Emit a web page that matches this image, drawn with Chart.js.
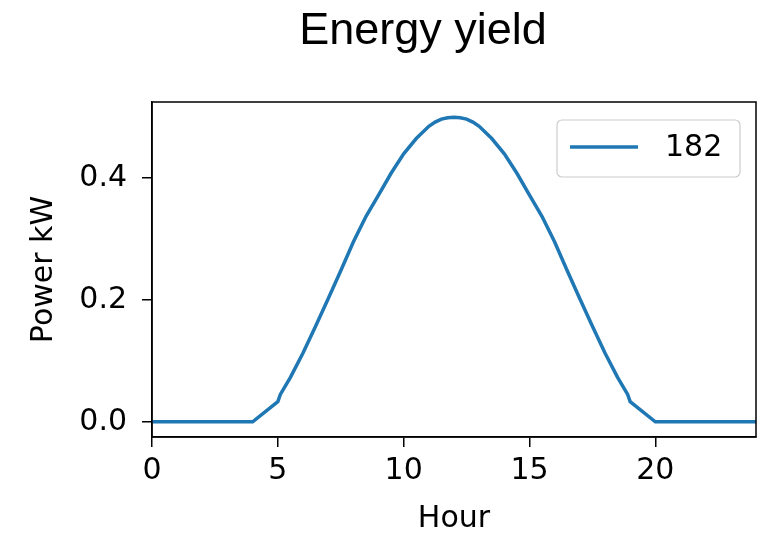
<html>
  <head>
    <title>Energy yield</title>
    <script src="https://cdn.jsdelivr.net/npm/chart.js"></script>
    <style>
      body { margin: 0; background: #fff; }
    </style>
  </head>
  <body>
    <canvas id="yieldChart" width="774" height="537"></canvas>

    <script>
      // values
      const hours = [0, 1, 2, 3, 4, 5, 5.1, 5.5, 6, 6.5, 7, 7.5, 8, 8.5, 9, 9.5, 10, 10.5, 11, 11.25, 11.5, 11.75, 12,
                     12.25, 12.5, 12.75, 13, 13.5, 14, 14.5, 15, 15.5, 16, 16.5, 17, 17.5, 18, 18.5, 18.9, 19, 20, 21, 22, 23, 24];
      const power = [0, 0, 0, 0, 0, 0.033, 0.045, 0.073, 0.113, 0.157, 0.202, 0.248, 0.295, 0.337, 0.372, 0.408, 0.440, 0.465, 0.485, 0.492, 0.497, 0.499, 0.500,
                     0.499, 0.497, 0.492, 0.485, 0.465, 0.440, 0.408, 0.372, 0.337, 0.295, 0.248, 0.202, 0.157, 0.113, 0.073, 0.045, 0.033, 0, 0, 0, 0, 0];
      const seriesLabel = '182';
      const xTicks = [0, 5, 10, 15, 20];
      const yTicks = [0.0, 0.2, 0.4];

      const blue = '#1f77b4';
      const tickFont = { family: 'DejaVu Sans', size: 30 };

      // box round the plot + legend box in the top right corner
      const framePlugin = {
        id: 'frame',
        afterLayout(chart) {
          // matplotlib centres the title over a slightly shifted area
          if (chart.titleBlock) {
            chart.titleBlock.left = 90;
            chart.titleBlock.right = 756;
          }
        },
        afterDatasetsDraw(chart) {
          const { ctx, chartArea: a } = chart;
          ctx.save();
          ctx.strokeStyle = '#000';
          ctx.lineWidth = 1.5;
          ctx.strokeRect(a.left, a.top, a.right - a.left, a.bottom - a.top);

          // legend
          const ds = chart.data.datasets[0];
          const bx = 557, by = 120, bw = 183, bh = 57;
          ctx.fillStyle = 'rgba(255,255,255,0.8)';
          ctx.strokeStyle = '#cccccc';
          ctx.lineWidth = 1.2;
          ctx.beginPath();
          ctx.roundRect(bx, by, bw, bh, 5);
          ctx.fill();
          ctx.stroke();
          ctx.strokeStyle = ds.borderColor;
          ctx.lineWidth = 3.5;
          ctx.beginPath();
          ctx.moveTo(bx + 13, by + 27);
          ctx.lineTo(bx + 81, by + 27);
          ctx.stroke();
          ctx.fillStyle = '#000';
          ctx.font = '30px "DejaVu Sans"';
          ctx.textBaseline = 'middle';
          ctx.textAlign = 'left';
          ctx.fillText(ds.label, bx + 108, by + 28);
          ctx.restore();
        }
      };

      new Chart(document.getElementById('yieldChart'), {
        type: 'line',
        data: {
          datasets: [{
            label: seriesLabel,
            data: hours.map((h, i) => ({ x: h, y: power[i] })),
            borderColor: blue,
            backgroundColor: blue,
            borderWidth: 3.5,
            pointRadius: 0,
            tension: 0,
            fill: false
          }]
        },
        options: {
          responsive: false,
          animation: false,
          devicePixelRatio: 1,
          layout: { padding: { left: 0, right: 18, top: 0, bottom: 0 } },
          plugins: {
            legend: { display: false },
            tooltip: { enabled: false },
            title: {
              display: true,
              text: 'Energy yield',
              color: '#000',
              font: { family: 'Liberation Sans', size: 45, weight: 'normal' },
              padding: { top: 5, bottom: 43 }
            }
          },
          scales: {
            x: {
              type: 'linear',
              min: 0,
              max: 24,
              afterBuildTicks: (axis) => { axis.ticks = xTicks.map(v => ({ value: v })); },
              afterFit: (axis) => { axis.height = 100; },
              ticks: { color: '#000', font: tickFont, padding: 6, maxRotation: 0 },
              grid: { drawOnChartArea: false, drawTicks: true, tickLength: 10, color: '#000', lineWidth: 1.5 },
              border: { display: true, color: '#000', width: 1.5 },
              title: { display: true, text: 'Hour', color: '#000', font: tickFont, padding: { top: 0, bottom: 0 } }
            },
            y: {
              min: -0.025,
              max: 0.525,
              afterBuildTicks: (axis) => { axis.ticks = yTicks.map(v => ({ value: v })); },
              afterFit: (axis) => { axis.width = 152; },
              ticks: { color: '#000', font: tickFont, padding: 15, callback: (v) => v.toFixed(1) },
              grid: { drawOnChartArea: false, drawTicks: true, tickLength: 10, color: '#000', lineWidth: 1.5 },
              border: { display: true, color: '#000', width: 1.5 },
              title: { display: true, text: 'Power kW', color: '#000', font: tickFont, padding: { top: 26, bottom: 0 } }
            }
          }
        },
        plugins: [framePlugin]
      });
    </script>
  </body>
</html>
